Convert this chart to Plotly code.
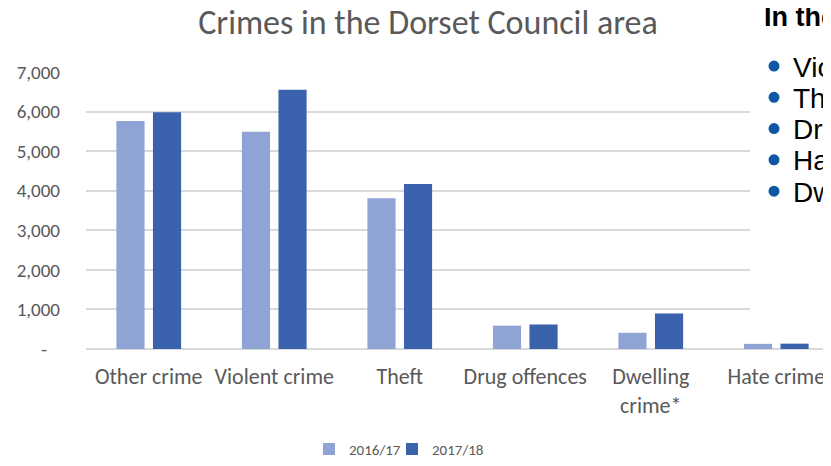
import plotly.graph_objects as go

categories = ["Other crime", "Violent crime", "Theft", "Drug offences", "Dwelling<br>crime*", "Hate crime"]
series_names = ["2016/17", "2017/18"]
values_2016 = [5760, 5490, 3810, 590, 410, 130]
values_2017 = [5980, 6550, 4170, 620, 895, 135]
y_tickvals = [0, 1000, 2000, 3000, 4000, 5000, 6000, 7000]
y_ticktext = ["-\u00a0\u00a0\u00a0", "1,000", "2,000", "3,000", "4,000", "5,000", "6,000", "7,000"]
side_heading = "In the Dorset Council area"
side_bullets = ["Violent crime", "Theft", "Drug offences", "Hate crime", "Dwelling crime"]

OFF = 8  # browser body margin
W, H = 831 - OFF, 466 - OFF
ML, MR, MT, MB = 86 - OFF, 0, 72 - OFF, 115
PW, PH = W - ML - MR, H - MT - MB

def px(x):  # reference pixel x -> paper
    return (x - OFF - ML) / PW

def py(y):  # reference pixel y -> paper
    return (H - MB - (y - OFF)) / PH

FONT = "Carlito, Lato, sans-serif"
GREY = "#595959"
ARIAL = "Liberation Sans, Arial, sans-serif"

fig = go.Figure()
fig.add_trace(go.Bar(x=categories, y=values_2016, name=series_names[0], legend="legend",
                     showlegend=True, marker=dict(color="#8FA3D5", line=dict(width=0))))
fig.add_trace(go.Bar(x=categories, y=values_2017, name=series_names[1], legend="legend2",
                     showlegend=True, marker=dict(color="#3B63AD", line=dict(width=0))))

shapes = [dict(type="rect", xref="paper", yref="paper", x0=px(750), x1=px(845),
               y0=py(330), y1=py(-5), fillcolor="white", line=dict(width=0), layer="above")]
ann = [dict(text="<b>" + side_heading + "</b>", xref="paper", yref="paper", x=px(762), y=py(17),
            xanchor="left", yanchor="middle", showarrow=False,
            font=dict(family=ARIAL, size=27, color="black"))]
for i, t in enumerate(side_bullets):
    yy = 66 + i * 31.5
    shapes.append(dict(type="circle", xref="paper", yref="paper",
                       xsizemode="pixel", ysizemode="pixel",
                       xanchor=px(774), yanchor=py(yy), x0=-5.5, x1=5.5, y0=-5.5, y1=5.5,
                       fillcolor="#0E57A5", line=dict(width=0), layer="above"))
    ann.append(dict(text=t, xref="paper", yref="paper", x=px(791), y=py(yy + 1),
                    xanchor="left", yanchor="middle", showarrow=False,
                    font=dict(family=ARIAL, size=28, color="black")))

legend_common = dict(orientation="h", yanchor="middle", y=py(452), xanchor="left", visible=True,
                     font=dict(family=FONT, size=15, color=GREY), bgcolor="rgba(0,0,0,0)")

fig.update_layout(
    width=W, height=H, autosize=False, showlegend=True,
    margin=dict(l=ML, r=MR, t=MT, b=MB, pad=0),
    paper_bgcolor="white", plot_bgcolor="white",
    barmode="group", bargap=0.4175, bargroupgap=0.23,
    font=dict(family=FONT, color=GREY),
    title=dict(text="Crimes in the Dorset Council area", x=(428 - OFF) / W, xanchor="center",
               y=1 - (22 - OFF) / H, yanchor="middle", font=dict(family=FONT, size=34, color=GREY)),
    legend=dict(x=px(309), **legend_common),
    legend2=dict(x=px(392), **legend_common),
    xaxis=dict(range=[-0.5, 5.436], showgrid=False, showline=False, ticks="",
               tickfont=dict(family=FONT, size=22, color=GREY), ticklabelstandoff=12),
    yaxis=dict(range=[0, 7000], tickvals=y_tickvals, ticktext=y_ticktext,
               showgrid=True, gridcolor="#D9D9D9", gridwidth=1.5,
               zeroline=True, zerolinecolor="#D9D9D9", zerolinewidth=1.5,
               showline=False, ticks="", tickfont=dict(family=FONT, size=19, color=GREY),
               ticklabelstandoff=25),
    shapes=shapes,
    annotations=ann,
)

fig.write_html("out.html")
